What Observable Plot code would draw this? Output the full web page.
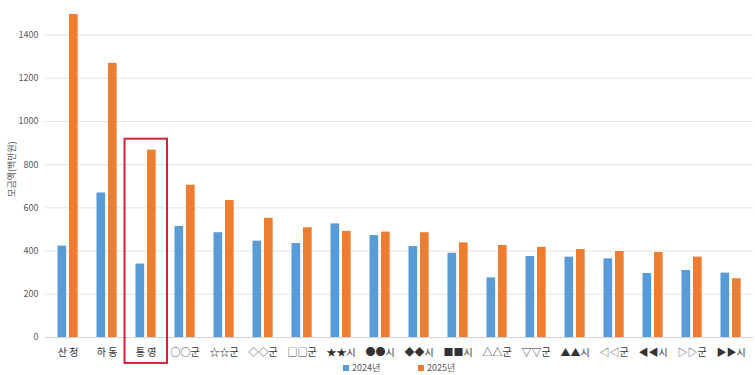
<!DOCTYPE html>
<html>
<head>
<meta charset="utf-8">
<script src="https://cdn.jsdelivr.net/npm/d3@7"></script>
<script src="https://cdn.jsdelivr.net/npm/@observablehq/plot@0.6"></script>
<style>
  html, body { margin: 0; padding: 0; background: #fff; overflow: hidden; }
  #wrap { position: relative; width: 755px; height: 375px; font-family: "Noto Sans CJK KR", "Noto Sans", sans-serif; }
  #legend { position: absolute; top: 362px; left: 0; width: 755px; height: 13px; font-size: 9px; line-height: 12px; color: #595959; }
  #legend span.item { position: absolute; white-space: nowrap; }
  #legend i { display: inline-block; width: 6px; height: 6px; margin-right: 3px; vertical-align: 0px; }
</style>
</head>
<body>
<div id="wrap"><div id="chart"></div><div id="legend"></div></div>
<script>
const categories = ["산 청","하 동","통 영","○○군","☆☆군","◇◇군","□□군","★★시","●●시","◆◆시","■■시","△△군","▽▽군","▲▲시","◁◁군","◀◀시","▷▷군","▶▶시"];
const values2024 = [423, 669, 340, 514, 485, 446, 435, 526, 472, 421, 390, 276, 375, 372, 364, 296, 310, 298];
const values2025 = [1495, 1269, 867, 705, 634, 552, 508, 491, 488, 485, 438, 426, 417, 407, 398, 393, 372, 272];
const seriesNames = ["2024년", "2025년"];
const seriesColors = ["#5b9bd5", "#ed7d31"];
const yTicks = [0, 200, 400, 600, 800, 1000, 1200, 1400];
const highlightCategory = "통 영";
const highlightRange = [-120, 918];
const yLabel = "모금액(백만원)";

const rows = categories.map((c, i) => ({category: c, v2024: values2024[i], v2025: values2025[i]}));

const chart = Plot.plot({
  width: 755,
  height: 375,
  marginLeft: 45,
  marginRight: 2,
  marginTop: 0,
  marginBottom: 38,
  style: {fontFamily: '"Noto Sans CJK KR", "Noto Sans", sans-serif', background: "#fff", overflow: "visible"},
  x: {domain: categories, padding: 0, label: null},
  y: {domain: [0, 1560], label: null},
  marks: [
    Plot.ruleY(yTicks.filter(d => d > 0), {stroke: "#e3e3e3", strokeWidth: 1}),
    Plot.ruleY([0], {stroke: "#d4d4d4", strokeWidth: 1}),
    Plot.barY(rows, {x: "category", y: "v2024", fill: seriesColors[0], insetLeft: 9.5, insetRight: 20.85}),
    Plot.barY(rows, {x: "category", y: "v2025", fill: seriesColors[1], insetLeft: 21, insetRight: 9.35}),
    Plot.barY([highlightCategory], {x: d => d, y1: highlightRange[0], y2: highlightRange[1], fill: "none", stroke: "#d0223a", strokeWidth: 2, insetLeft: -1.5, insetRight: -2, clip: false}),
    Plot.axisY({ticks: yTicks, tickFormat: "d", tickSize: 0, tickPadding: 7, fontSize: 9, color: "#595959", label: yLabel, labelAnchor: "center", labelArrow: "none", labelOffset: 37}),
    Plot.axisX({tickSize: 0, tickPadding: 11, fontSize: 10, color: "#333", label: null})
  ]
});
document.getElementById("chart").appendChild(chart);

const legend = document.getElementById("legend");
const legendX = [343, 418];
seriesNames.forEach((name, i) => {
  const s = document.createElement("span");
  s.className = "item";
  s.style.left = legendX[i] + "px";
  s.innerHTML = `<i style="background:${seriesColors[i]}"></i>${name}`;
  legend.appendChild(s);
});
</script>
</body>
</html>
